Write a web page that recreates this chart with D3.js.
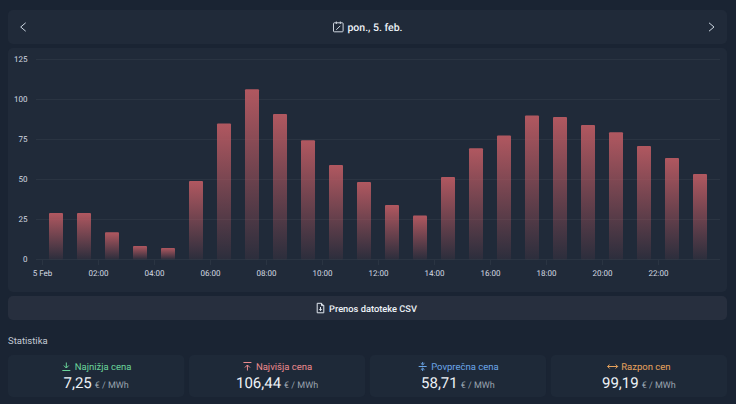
<!DOCTYPE html>
<html>
<head>
<meta charset="utf-8">
<script src="https://cdn.jsdelivr.net/npm/d3@7"></script>
<style>
  html, body { margin: 0; padding: 0; background: #1a2433; overflow: hidden; }
  svg { display: block; font-family: Roboto, sans-serif; text-rendering: geometricPrecision; }
</style>
</head>
<body>
<svg id="chart" width="736" height="404"></svg>
<script>
"use strict";

// Hourly price on 5 Feb, EUR/MWh
var hours = d3.range(0, 24);
var prices = [29, 29, 17, 8.5, 7.25, 49, 85, 106.44, 91, 74.5, 59, 48.5,
  34, 27.5, 51.5, 69.5, 77.5, 90, 89, 84, 79.5, 71, 63.5, 53.5];
var yTicks = [0, 25, 50, 75, 100, 125];
var xTicks = [0, 2, 4, 6, 8, 10, 12, 14, 16, 18, 20, 22];
var xTickLabels = ["5 Feb", "02:00", "04:00", "06:00", "08:00", "10:00",
  "12:00", "14:00", "16:00", "18:00", "20:00", "22:00"];

var statLabels = ["Najnižja cena", "Najvišja cena", "Povprečna cena", "Razpon cen"];
var statValues = ["7,25", "106,44", "58,71", "99,19"];
var statColors = ["#6ad49a", "#ec8a8e", "#6ba6e8", "#e8a35d"];
var statIcons = ["down", "up", "avg", "range"];

var svg = d3.select("#chart");

var x = d3.scaleLinear().domain([0, 24]).range([42, 714]);
var y = d3.scaleLinear().domain([0, 125]).range([259.5, 59.5]);

var grad = svg.append("defs").append("linearGradient")
  .attr("id", "barFill")
  .attr("x1", 0).attr("y1", 0).attr("x2", 0).attr("y2", 1);
grad.append("stop").attr("offset", "0%").attr("stop-color", "#b85a62").attr("stop-opacity", 0.95);
grad.append("stop").attr("offset", "100%").attr("stop-color", "#b85a62").attr("stop-opacity", 0.08);

function card(x0, y0, w, h, fill) {
  svg.append("rect")
    .attr("x", x0).attr("y", y0)
    .attr("width", w).attr("height", h)
    .attr("rx", 5)
    .attr("fill", fill);
}

function icon(d, tx, ty, color, width) {
  svg.append("path")
    .attr("transform", "translate(" + tx + "," + ty + ")")
    .attr("d", d)
    .attr("fill", "none")
    .attr("stroke", color)
    .attr("stroke-width", width || 1);
}

function label(text, tx, ty, size, color, weight, anchor) {
  return svg.append("text")
    .attr("x", tx).attr("y", ty)
    .attr("font-size", size)
    .attr("font-weight", weight || 400)
    .attr("fill", color)
    .attr("text-anchor", anchor || "middle")
    .text(text);
}

// header
card(8, 10, 719, 34, "#202a39");
icon("M5,-4.2 L0,0 L5,4.2", 20.7, 27, "#cbd5e0");
icon("M0,-4.2 L5,0 L0,4.2", 709, 27, "#cbd5e0");
icon("M-4,-4 h8 a0.8,0.8 0 0 1 0.8,0.8 v7.4 a0.8,0.8 0 0 1 -0.8,0.8 h-8 a0.8,0.8 0 0 1 -0.8,-0.8 v-7.4 a0.8,0.8 0 0 1 0.8,-0.8 M-2,-5.3 v2.5 M2,-5.3 v2.5 M-2,3 L2,-1", 338.3, 26.8, "#cfd6df");
label("pon., 5. feb.", 375, 31, 10.5, "#edf2f7", 500);

// chart panel
card(8, 48, 719, 244, "#202a39");

svg.append("g").selectAll("line")
  .data(yTicks)
  .enter().append("line")
    .attr("x1", 36).attr("x2", 720)
    .attr("y1", function(d) { return y(d); })
    .attr("y2", function(d) { return y(d); })
    .attr("stroke", "#2a3442")
    .attr("stroke-width", 1);

svg.append("g").selectAll("text")
  .data(yTicks)
  .enter().append("text")
    .attr("x", 27.5)
    .attr("y", function(d) { return y(d) + 2.8; })
    .attr("text-anchor", "end")
    .attr("font-size", 8)
    .attr("fill", "#d5dbe3")
    .text(function(d) { return d; });

svg.append("g").selectAll("line")
  .data(xTicks)
  .enter().append("line")
    .attr("x1", function(d) { return x(d) + 0.5; })
    .attr("x2", function(d) { return x(d) + 0.5; })
    .attr("y1", 260).attr("y2", 265)
    .attr("stroke", "#2a3442");

svg.append("g").selectAll("text")
  .data(xTicks)
  .enter().append("text")
    .attr("x", function(d) { return x(d) + 0.5; })
    .attr("y", 276)
    .attr("text-anchor", "middle")
    .attr("font-size", 8)
    .attr("fill", "#d5dbe3")
    .text(function(d, i) { return xTickLabels[i]; });

svg.append("g").selectAll("rect")
  .data(prices)
  .enter().append("rect")
    .attr("x", function(d, i) { return x(hours[i] + 0.5) - 7; })
    .attr("y", function(d) { return y(d); })
    .attr("width", 14)
    .attr("height", function(d) { return y(0) - y(d); })
    .attr("rx", 1)
    .attr("fill", "url(#barFill)");

// csv button
card(8, 296, 719, 24, "#272f3e");
icon("M-3.3,-4.7 h4.3 l2.3,2.3 v7.2 h-6.6 z M1,-4.7 v2.3 h2.3 M0,-1 v3.5 M-1.4,1.2 L0,2.6 L1.4,1.2", 320.5, 308, "#e2e8f0");
label("Prenos datoteke CSV", 373, 312, 9.3, "#edf2f7", 500);

// statistics
label("Statistika", 8, 344, 9.5, "#c3cad4", 400, "start");

var statX = d3.scaleBand().domain(d3.range(4)).range([8, 727]).paddingInner(0.025);

var iconPaths = {
  down: "M0,-4 V1.5 M-2.5,-1 L0,1.5 L2.5,-1 M-4,4 H4",
  up: "M0,4 V-1.5 M-2.5,1 L0,-1.5 L2.5,1 M-4,-4 H4",
  avg: "M-4,0 H4 M0,-4.5 V-2 M-1.8,-3.2 L0,-1.6 L1.8,-3.2 M0,4.5 V2 M-1.8,3.2 L0,1.6 L1.8,3.2",
  range: "M-5,0 H5 M-3,-2 L-5,0 L-3,2 M3,-2 L5,0 L3,2"
};

statLabels.forEach(function(name, i) {
  var x0 = statX(i);
  var w = statX.bandwidth();
  var cx = x0 + w / 2;
  card(x0, 355, w, 42, "#1e2938");

  var top = label(name, cx + 7, 370, 9.5, statColors[i], 400);
  var tw = top.node().getComputedTextLength();
  icon(iconPaths[statIcons[i]], cx + 7 - tw / 2 - 8.5, 366.5, statColors[i]);

  var row = svg.append("text")
    .attr("x", cx).attr("y", 388)
    .attr("text-anchor", "middle")
    .attr("font-size", 15)
    .attr("fill", "#edf2f7");
  row.append("tspan").text(statValues[i]);
  row.append("tspan")
    .attr("dx", 3)
    .attr("font-size", 9)
    .attr("fill", "#9aa3af")
    .text("€ / MWh");
});
</script>
</body>
</html>
